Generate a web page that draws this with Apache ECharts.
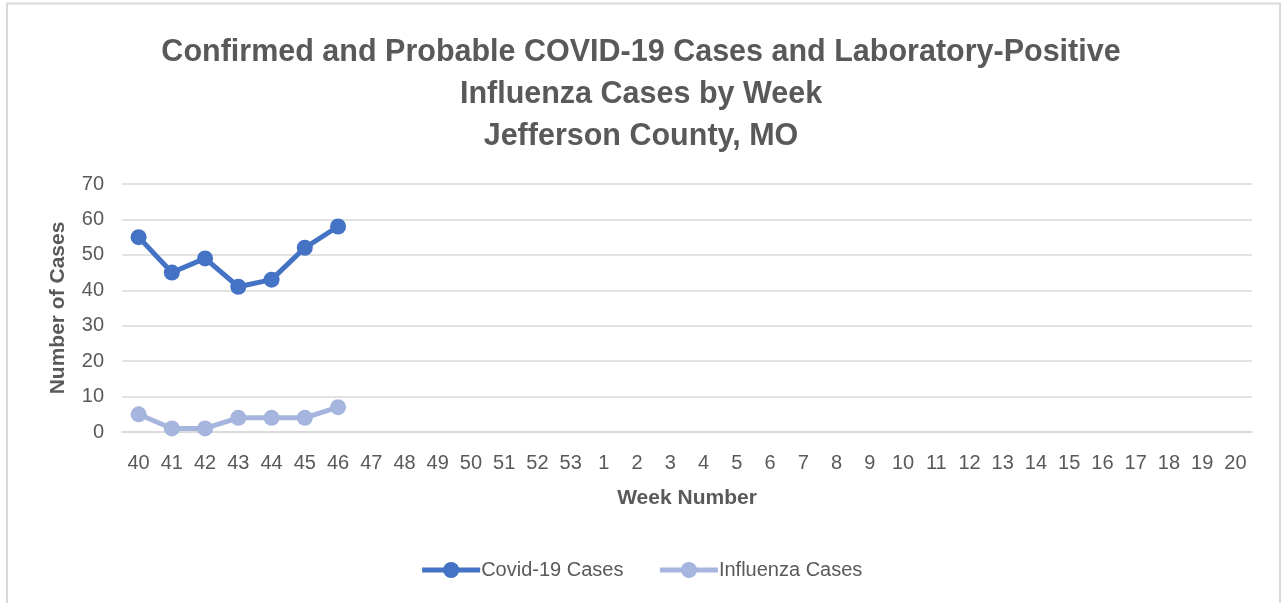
<!DOCTYPE html>
<html>
<head>
<meta charset="utf-8">
<script src="https://cdn.jsdelivr.net/npm/echarts@6/dist/echarts.min.js"></script>
<style>html,body{margin:0;padding:0;background:#fff;}#c{width:1282px;height:603px;}</style>
</head>
<body>
<div id="c"></div>
<script>
const weeks = ['40','41','42','43','44','45','46','47','48','49','50','51','52','53','1','2','3','4','5','6','7','8','9','10','11','12','13','14','15','16','17','18','19','20'];
const covidCases = [55, 45, 49, 41, 43, 52, 58];
const influenzaCases = [5, 1, 1, 4, 4, 4, 7];
const titleText = 'Confirmed and Probable COVID-19 Cases and Laboratory-Positive\nInfluenza Cases by Week\nJefferson County, MO';

const FONT = '"Liberation Sans Narrow", "Liberation Sans", Arial, sans-serif';
const TXT = '#595959';
const chart = echarts.init(document.getElementById('c'));
chart.setOption({
  animation: false,
  backgroundColor: '#fff',
  graphic: [{
    type: 'rect', shape: {x: 7, y: 3.5, width: 1273, height: 620},
    style: {fill: 'none', stroke: '#d9d9d9', lineWidth: 2}, z: -1
  }],
  title: {
    text: titleText, left: 'center', top: 27,
    textStyle: {fontFamily: FONT, fontWeight: 'bold', fontSize: 30.5, color: TXT, lineHeight: 42}
  },
  legend: {
    bottom: 18, left: 'center', itemWidth: 58, itemHeight: 20, itemGap: 34,
    lineStyle: {width: 5},
    textStyle: {fontFamily: FONT, fontSize: 20, color: TXT, padding: [0,0,0,-4]},
    data: ['Covid-19 Cases', 'Influenza Cases']
  },
  grid: {left: 122, right: 30, top: 184, bottom: 171, containLabel: false},
  xAxis: {
    type: 'category', data: weeks, boundaryGap: true,
    name: 'Week Number', nameLocation: 'middle', nameGap: 56,
    nameTextStyle: {fontFamily: FONT, fontWeight: 'bold', fontSize: 21, color: TXT},
    axisLine: {lineStyle: {color: '#d9d9d9', width: 1.5}},
    axisTick: {show: false},
    axisLabel: {fontFamily: FONT, fontSize: 20, color: TXT, margin: 21, interval: 0}
  },
  yAxis: {
    type: 'value', min: 0, max: 70, interval: 10,
    name: 'Number of Cases', nameLocation: 'middle', nameGap: 53,
    nameTextStyle: {fontFamily: FONT, fontWeight: 'bold', fontSize: 21, color: TXT},
    axisLine: {show: false}, axisTick: {show: false},
    axisLabel: {fontFamily: FONT, fontSize: 20, color: TXT, margin: 18},
    splitLine: {lineStyle: {color: '#d9d9d9', width: 1.5}}
  },
  series: [
    {name: 'Covid-19 Cases', type: 'line', data: covidCases, symbol: 'circle', symbolSize: 16,
     lineStyle: {width: 5, color: '#4472C4'}, itemStyle: {color: '#4472C4'}},
    {name: 'Influenza Cases', type: 'line', data: influenzaCases, symbol: 'circle', symbolSize: 16,
     lineStyle: {width: 5, color: '#A5B5DD'}, itemStyle: {color: '#A5B5DD'}}
  ]
});
</script>
</body>
</html>
